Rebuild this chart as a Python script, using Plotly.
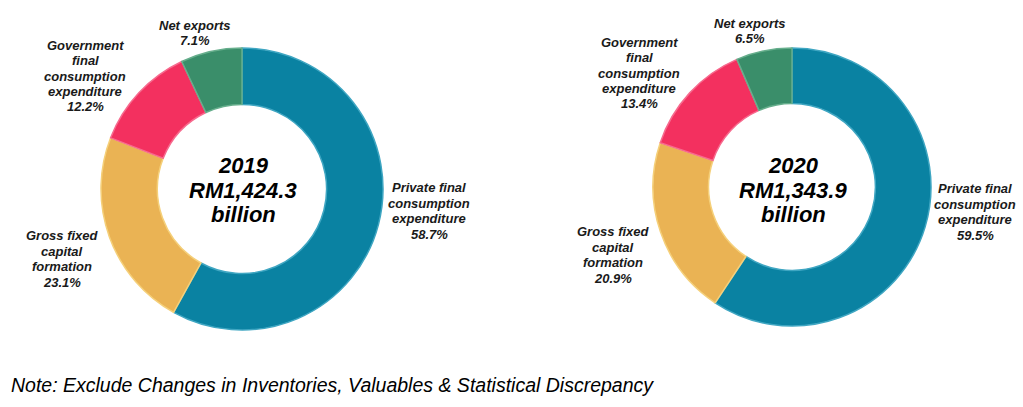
import plotly.graph_objects as go

W, H = 1023, 407

components = ["Private final consumption expenditure", "Gross fixed capital formation",
              "Government final consumption expenditure", "Net exports"]
label_lines = [["Private final", "consumption", "expenditure"],
               ["Gross fixed", "capital", "formation"],
               ["Government", "final", "consumption", "expenditure"],
               ["Net exports"]]
years = ["2019", "2020"]
totals = ["RM1,424.3", "RM1,343.9"]
unit = "billion"
shares_2019 = [58.7, 23.1, 12.2, 7.1]
shares_2020 = [59.5, 20.9, 13.4, 6.5]
note = "Note: Exclude Changes in Inventories, Valuables & Statistical Discrepancy"

colors = ["#0A82A2", "#EAB354", "#F3305F", "#3A8E6A"]
line_colors = ["#3FA6C2", "#F5D07A", "#F76A8E", "#66AE8C"]

def px(x):
    return x / W

def py(y):
    return 1 - y / H

# geometry (pixels)
pies = [
    dict(cx=242, cy=189, r=141),
    dict(cx=792, cy=187, r=139),
]
# label centre positions (pixels): private, gross, government, net exports
label_pos = [
    [(429, 211), (62, 259), (85, 76), (195, 33)],
    [(975, 212), (613, 255), (639, 73), (750, 31)],
]
label_gap = 15.4
center_line_y = [165, 190, 214]

fig = go.Figure()
all_shares = [shares_2019, shares_2020]
for i, g in enumerate(pies):
    fig.add_trace(go.Pie(
        labels=components,
        values=all_shares[i],
        sort=False,
        direction="clockwise",
        rotation=0,
        hole=0.6,
        textinfo="none",
        hoverinfo="label+percent",
        marker=dict(colors=colors, line=dict(color=line_colors, width=1.5)),
        domain=dict(x=[px(g["cx"] - g["r"]), px(g["cx"] + g["r"])],
                    y=[py(g["cy"] + g["r"]), py(g["cy"] - g["r"])]),
        showlegend=False,
    ))
    for txt, ly in zip([years[i], totals[i], unit], center_line_y):
        fig.add_annotation(
            x=px(g["cx"] + 1), y=py(ly), xref="paper", yref="paper",
            text=f"<b><i>{txt}</i></b>",
            showarrow=False, align="center", xanchor="center", yanchor="middle",
            font=dict(family="Liberation Sans, Arial", size=22, color="#000000"),
        )
    for j, (lx, ly) in enumerate(label_pos[i]):
        lines = label_lines[j] + [f"{all_shares[i][j]:.1f}%"]
        n = len(lines)
        for k, line in enumerate(lines):
            yy = ly + (k - (n - 1) / 2) * label_gap
            fig.add_annotation(
                x=px(lx), y=py(yy), xref="paper", yref="paper",
                text=f"<b><i>{line}</i></b>",
                showarrow=False, align="center", xanchor="center", yanchor="middle",
                font=dict(family="Liberation Sans, Arial", size=13, color="#1a1a1a"),
            )

fig.add_annotation(
    x=px(9), y=py(385), xref="paper", yref="paper",
    text=f"<i>{note}</i>", showarrow=False, xanchor="left", yanchor="middle",
    font=dict(family="Liberation Sans, Arial", size=19.5, color="#000000"),
)

fig.update_layout(
    width=W, height=H,
    margin=dict(l=0, r=0, t=0, b=0),
    paper_bgcolor="white", plot_bgcolor="white",
)

fig.write_html(
    "out.html",
    config={"displayModeBar": False},
    post_script="document.body.style.margin='0';document.body.style.overflow='hidden';",
)
